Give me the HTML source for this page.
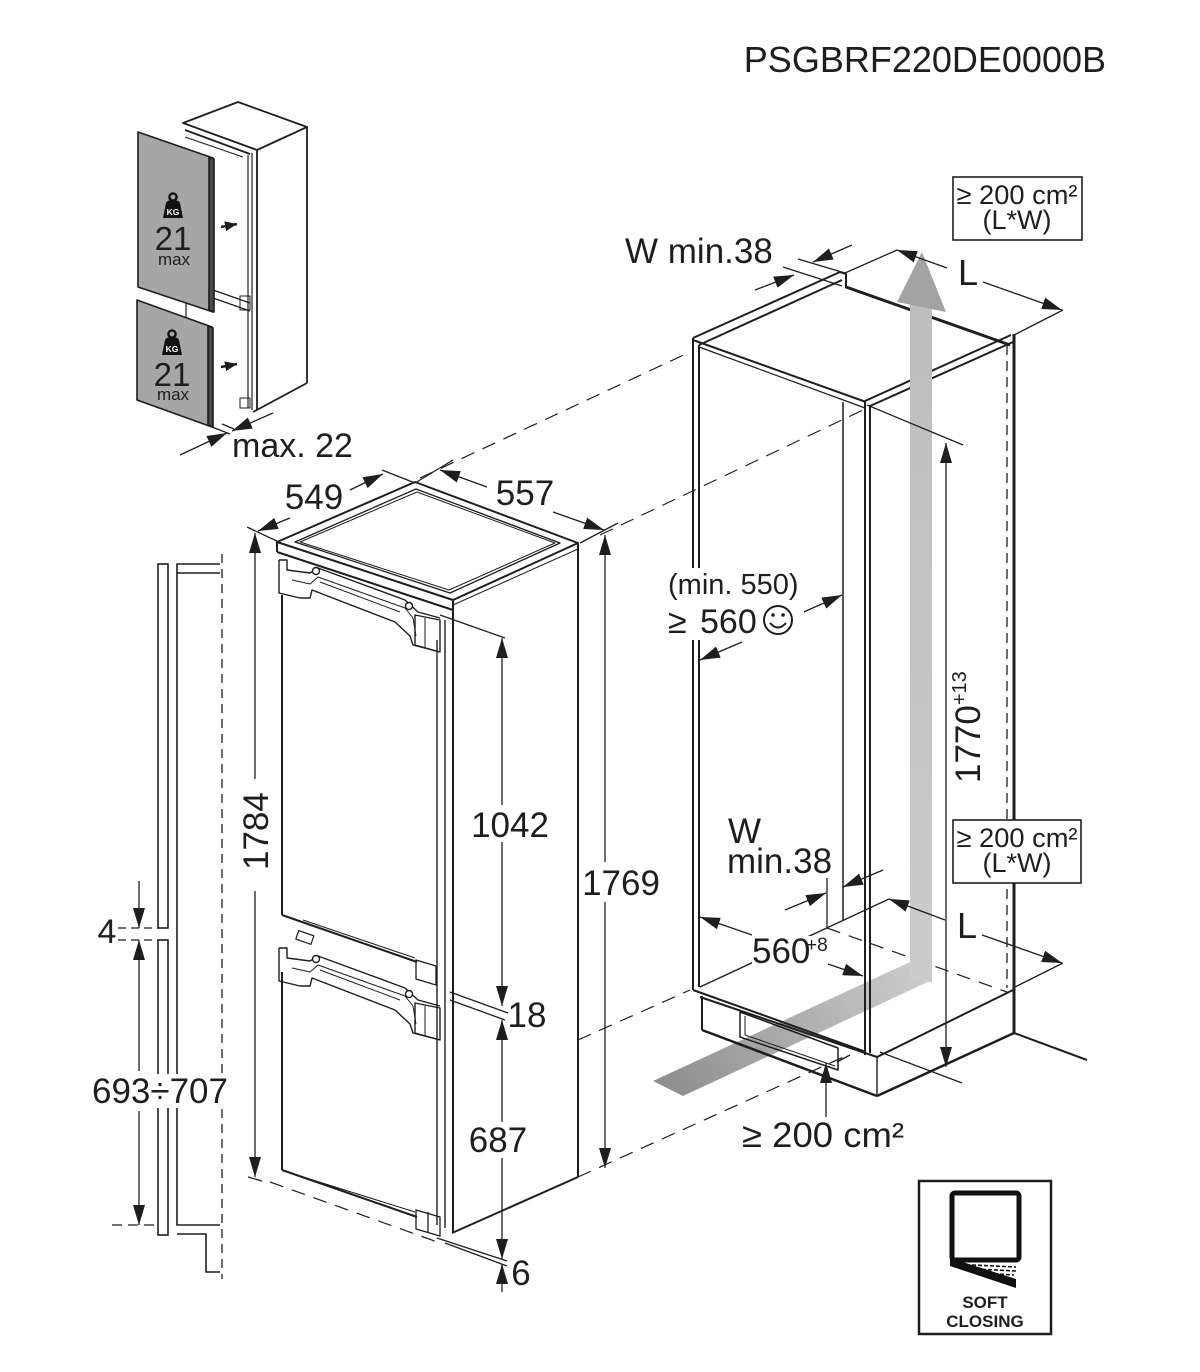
<!DOCTYPE html>
<html>
<head>
<meta charset="utf-8">
<style>
html,body{margin:0;padding:0;background:#fff;}
svg{display:block;}
text{font-family:"Liberation Sans",Arial,sans-serif;fill:#1e1e1e;}
</style>
</head>
<body>
<svg width="1200" height="1372" viewBox="0 0 1200 1372" xmlns="http://www.w3.org/2000/svg">
<defs>
<marker id="a" markerWidth="20" markerHeight="12" refX="20" refY="6" orient="auto" markerUnits="userSpaceOnUse"><path d="M0,0 L20,6 L0,12 z" fill="#1e1e1e"/></marker>
<marker id="s" markerWidth="12" markerHeight="10" refX="12" refY="5" orient="auto" markerUnits="userSpaceOnUse"><path d="M0,0 L12,5 L0,10 z" fill="#1e1e1e"/></marker>
<linearGradient id="band" x1="653" y1="1090" x2="920" y2="970" gradientUnits="userSpaceOnUse">
<stop offset="0" stop-color="#8c8c8c"/><stop offset="1" stop-color="#cbcbcb"/>
</linearGradient>
<linearGradient id="shaft" x1="0" y1="980" x2="0" y2="300" gradientUnits="userSpaceOnUse">
<stop offset="0" stop-color="#cbcbcb"/><stop offset="1" stop-color="#bdbdbd"/>
</linearGradient>
</defs>

<!-- Title -->
<text x="1106" y="72" font-size="36" text-anchor="end">PSGBRF220DE0000B</text>

<!-- ================= SMALL FRIDGE (top-left) ================= -->
<g stroke="#1e1e1e" fill="none" stroke-width="1.8" stroke-linejoin="round">
  <polygon points="183,123 238,102 307,127 257,150" fill="#fff"/>
  <line x1="185" y1="130" x2="250" y2="154"/>
  <line x1="185" y1="137" x2="243" y2="157" stroke-width="1"/>
  <line x1="257" y1="150" x2="257" y2="410"/>
  <line x1="307" y1="127" x2="307" y2="383"/>
  <line x1="307" y1="383" x2="253" y2="412"/>
  <line x1="248" y1="155" x2="248" y2="408" stroke-width="1.2"/>
  <line x1="252" y1="153" x2="252" y2="410" stroke-width="1.2"/>
  <line x1="186" y1="290" x2="186" y2="320" stroke-width="1.2"/>
  <line x1="213" y1="290" x2="250" y2="303" stroke-width="1.2"/>
  <line x1="213" y1="298" x2="250" y2="311" stroke-width="1.2"/>
  <rect x="240" y="296" width="10" height="14" stroke-width="1"/>
  <rect x="240" y="398" width="10" height="10" stroke-width="1"/>
  <line x1="187" y1="165" x2="187" y2="285" stroke-width="1"/>
</g>
<!-- panels -->
<g stroke="#1e1e1e" stroke-width="1.6" stroke-linejoin="round">
  <polygon points="138,132 213,158 213,312 138,287" fill="#a6a6a6"/>
  <polygon points="209,157 214,159 214,312 209,310" fill="#4a4a4a"/>
  <polygon points="137,300 212,327 212,427 137,400" fill="#a6a6a6"/>
  <polygon points="208,326 213,328 213,427 208,425" fill="#4a4a4a"/>
</g>
<!-- KG icons -->
<g>
  <circle cx="173" cy="197" r="3.6" fill="none" stroke="#111" stroke-width="2.4"/>
  <path d="M163,218 L166,203 Q167,200.5 170,200.5 L176,200.5 Q179,200.5 180,203 L183,218 Z" fill="#111"/>
  <text x="173" y="215" font-size="8.5" font-weight="bold" text-anchor="middle" style="fill:#fff">KG</text>
  <text x="173" y="250" font-size="33" text-anchor="middle">21</text>
  <text x="174" y="265" font-size="17" text-anchor="middle">max</text>

  <circle cx="172" cy="334" r="3.6" fill="none" stroke="#111" stroke-width="2.4"/>
  <path d="M162,355 L165,340 Q166,337.5 169,337.5 L175,337.5 Q178,337.5 179,340 L182,355 Z" fill="#111"/>
  <text x="172" y="352" font-size="8.5" font-weight="bold" text-anchor="middle" style="fill:#fff">KG</text>
  <text x="172" y="386" font-size="33" text-anchor="middle">21</text>
  <text x="173" y="400" font-size="17" text-anchor="middle">max</text>
</g>
<g stroke="#1e1e1e" stroke-width="2.5">
  <line x1="221" y1="227" x2="237" y2="224" marker-end="url(#s)"/>
  <line x1="221" y1="367" x2="237" y2="364" marker-end="url(#s)"/>
</g>
<!-- max 22 -->
<g stroke="#1e1e1e" stroke-width="1.3">
  <line x1="180" y1="455" x2="227" y2="433" marker-end="url(#a)"/>
  <line x1="273" y1="413" x2="232" y2="431" marker-end="url(#a)"/>
  <line x1="212" y1="427" x2="230" y2="434"/>
  <line x1="222" y1="424" x2="234" y2="429"/>
</g>
<text x="232" y="457" font-size="34">max. 22</text>

<!-- ================= LEFT PROFILE ================= -->
<g stroke="#1e1e1e" fill="none" stroke-width="1.6">
  <rect x="158" y="564" width="10" height="364"/>
  <rect x="158" y="940" width="10" height="295"/>
  <polyline points="220,564 177,564 177,1225 220,1225"/>
  <line x1="177" y1="573" x2="220" y2="573"/>
  <polyline points="177,1234 206,1234 206,1272 220,1272"/>
  <line x1="222" y1="554" x2="222" y2="1279" stroke-dasharray="9,6" stroke-width="1.3"/>
  <line x1="118" y1="928" x2="158" y2="928" stroke-dasharray="8,5" stroke-width="1.2"/>
  <line x1="118" y1="940" x2="158" y2="940" stroke-dasharray="8,5" stroke-width="1.2"/>
  <line x1="112" y1="1225" x2="158" y2="1225" stroke-dasharray="10,6" stroke-width="1.2"/>
</g>
<g stroke="#1e1e1e" stroke-width="1.3">
  <line x1="139" y1="881" x2="139" y2="928" marker-end="url(#a)"/>
  <line x1="139" y1="1071" x2="139" y2="940" marker-end="url(#a)"/>
  <line x1="139" y1="1111" x2="139" y2="1225" marker-end="url(#a)"/>
</g>
<rect x="88" y="1074" width="145" height="34" fill="#fff"/>
<text x="160" y="1103" font-size="35" text-anchor="middle">693÷707</text>
<text x="107" y="943" font-size="34" text-anchor="middle">4</text>

<!-- ================= MAIN FRIDGE ================= -->
<g stroke="#1e1e1e" fill="none" stroke-width="2" stroke-linejoin="round">
  <polygon points="277,542 415,482 578,543 453,600" fill="#fff"/>
  <polygon points="295,542 416,489 560,543 450,593" stroke-width="1.3"/>
  <polygon points="300,542 417,492 555,543 449,590" stroke-width="1"/>
  <line x1="277" y1="542" x2="277" y2="552"/>
  <line x1="277" y1="552" x2="453" y2="610"/>
  <line x1="453" y1="600" x2="453" y2="1233"/>
  <line x1="578" y1="543" x2="578" y2="1177"/>
  <line x1="578" y1="1177" x2="452" y2="1233"/>
  <line x1="453" y1="605" x2="578" y2="549" stroke-width="1"/>
  <!-- doors -->
  <line x1="282" y1="595" x2="282" y2="915"/>
  <line x1="282" y1="972" x2="282" y2="1170"/>
  <line x1="437" y1="640" x2="437" y2="1225" stroke-width="1.4"/>
  <line x1="445" y1="620" x2="445" y2="1228" stroke-width="1.4"/>
  <line x1="282" y1="915" x2="417" y2="962"/>
  <line x1="303" y1="920" x2="415" y2="958" stroke-width="1"/>
  <line x1="282" y1="1170" x2="417" y2="1217"/>
  <line x1="300" y1="1176" x2="415" y2="1212" stroke-width="1"/>
  <rect x="297" y="933" width="16" height="9" stroke-width="1.2" transform="rotate(19 305 937)"/>
</g>
<!-- hinge bands -->
<g id="hinge" stroke="#1e1e1e" fill="none" stroke-width="1.4" stroke-linejoin="round">
  <path d="M279,560 L287,560 L287,570 L310,573 L318,568 L405,600 L418,612 L440,618"/>
  <path d="M279,560 L279,593 L300,598 L310,598 L312,590 L395,622 L410,636 L413,645 L440,652"/>
  <path d="M292,580 L310,584 L318,577 L405,608 L413,618 L416,636" stroke-width="1"/>
  <path d="M320,582 L400,612" stroke-width="1"/>
  <polygon points="415,615 440,620 440,652 415,645"/>
  <line x1="425" y1="618" x2="425" y2="648" stroke-width="1"/>
  <circle cx="316" cy="571" r="3.5" fill="#fff"/>
  <circle cx="409" cy="606" r="3.5" fill="#fff"/>
</g>
<use href="#hinge" transform="translate(0,388)"/>
<g stroke="#1e1e1e" fill="none" stroke-width="1.3">
  <polygon points="416,960 436,966 436,985 416,979"/>
  <polygon points="416,1210 440,1217 440,1236 416,1229"/>
  <line x1="428" y1="1212" x2="428" y2="1233"/>
</g>

<!-- main fridge dimensions -->
<g stroke="#1e1e1e" stroke-width="1.3">
  <line x1="247" y1="527" x2="281" y2="543"/>
  <line x1="382" y1="470" x2="415" y2="483"/>
  <line x1="415" y1="483" x2="453" y2="460"/>
  <line x1="580" y1="543" x2="618" y2="523"/>
  <line x1="290" y1="518" x2="258" y2="531" marker-end="url(#a)"/>
  <line x1="350" y1="490" x2="383" y2="474" marker-end="url(#a)"/>
  <line x1="487" y1="487" x2="440" y2="470" marker-end="url(#a)"/>
  <line x1="553" y1="512" x2="604" y2="530" marker-end="url(#a)"/>
  <line x1="255" y1="779" x2="255" y2="533" marker-end="url(#a)"/>
  <line x1="255" y1="891" x2="255" y2="1177" marker-end="url(#a)"/>
  <line x1="248" y1="1177" x2="262" y2="1181"/>
  <line x1="605" y1="862" x2="605" y2="535" marker-end="url(#a)"/>
  <line x1="605" y1="902" x2="605" y2="1168" marker-end="url(#a)"/>
  <line x1="440" y1="615" x2="505" y2="638"/>
  <line x1="502" y1="805" x2="502" y2="638" marker-end="url(#a)"/>
  <line x1="502" y1="842" x2="502" y2="1006" marker-end="url(#a)"/>
  <line x1="450" y1="992" x2="508" y2="1013"/>
  <line x1="450" y1="1000" x2="505" y2="1020"/>
  <line x1="502" y1="1122" x2="502" y2="1020" marker-end="url(#a)"/>
  <line x1="502" y1="1158" x2="502" y2="1259" marker-end="url(#a)"/>
  <line x1="437" y1="1238" x2="507" y2="1261"/>
  <line x1="445" y1="1243" x2="507" y2="1266"/>
  <line x1="502" y1="1292" x2="502" y2="1264" marker-end="url(#a)"/>
</g>
<text x="314" y="509" font-size="35" text-anchor="middle">549</text>
<text x="525" y="505" font-size="35" text-anchor="middle">557</text>
<text transform="translate(268,870) rotate(-90)" font-size="35">1784</text>
<text x="621" y="895" font-size="35" text-anchor="middle">1769</text>
<text x="510" y="837" font-size="35" text-anchor="middle">1042</text>
<text x="527" y="1027" font-size="35" text-anchor="middle">18</text>
<text x="498" y="1152" font-size="35" text-anchor="middle">687</text>
<text x="521" y="1285" font-size="35" text-anchor="middle">6</text>

<!-- dashed projection lines -->
<g stroke="#1e1e1e" stroke-width="1.2" stroke-dasharray="14,9" fill="none">
  <line x1="420" y1="478" x2="690" y2="352"/>
  <line x1="600" y1="535" x2="863" y2="410"/>
  <line x1="578" y1="1040" x2="690" y2="990"/>
  <line x1="578" y1="1177" x2="848" y2="1055"/>
  <line x1="270" y1="1182" x2="440" y2="1243"/>
  <line x1="827" y1="928" x2="1007" y2="992"/>
</g>

<!-- ================= NICHE ================= -->
<polygon points="653,1081 910,962 932,980 683,1096" fill="url(#band)"/>

<g stroke="#1e1e1e" fill="none" stroke-width="2" stroke-linejoin="round">
  <line x1="693" y1="338" x2="840" y2="272"/>
  <line x1="699" y1="345" x2="842" y2="280"/>
  <polyline points="840,272 846,274 846,288"/>
  <line x1="846" y1="287" x2="1010" y2="345" stroke-width="3"/>
  <line x1="1011" y1="335" x2="865" y2="401"/>
  <line x1="1013" y1="342" x2="870" y2="406"/>
  <line x1="693" y1="340" x2="866" y2="402"/>
  <line x1="699" y1="347" x2="865" y2="408" stroke-width="1.2"/>
  <line x1="693" y1="338" x2="693" y2="990"/>
  <line x1="699" y1="345" x2="699" y2="987"/>
  <line x1="865" y1="401" x2="865" y2="1055"/>
  <line x1="870" y1="405" x2="870" y2="1053"/>
  <line x1="843" y1="402" x2="843" y2="920" stroke-width="1.5"/>
  <line x1="1014" y1="334" x2="1014" y2="1033" stroke-width="3"/>
  <line x1="1007" y1="345" x2="1007" y2="988" stroke-width="1.3" stroke-dasharray="10,6"/>
  <line x1="693" y1="990" x2="866" y2="1052"/>
  <line x1="700" y1="997" x2="877" y2="1057"/>
  <line x1="700" y1="987" x2="889" y2="899" stroke-width="1.4"/>
  <line x1="877" y1="1057" x2="1013" y2="990"/>
  <line x1="702" y1="996" x2="702" y2="1030"/>
  <line x1="702" y1="1030" x2="877" y2="1096" stroke-width="2.5"/>
  <line x1="877" y1="1057" x2="877" y2="1096" stroke-width="1.4"/>
  <line x1="877" y1="1096" x2="1014" y2="1033" stroke-width="2.5"/>
  <line x1="1014" y1="1033" x2="1087" y2="1060"/>
  <polygon points="740,1012 838,1048 838,1070 740,1037" stroke-width="1.5"/>
  <polyline points="745,1016 745,1035 835,1066" stroke-width="1"/>
</g>
<rect x="910" y="300" width="22" height="682" fill="url(#shaft)"/>
<polygon points="922,252 897,302 946,312" fill="#a3a3a3"/>

<g stroke="#1e1e1e" stroke-width="1.3">
  <line x1="783" y1="267" x2="842" y2="286"/>
  <line x1="798" y1="259" x2="845" y2="273"/>
  <line x1="755" y1="290" x2="794" y2="275" marker-end="url(#a)"/>
  <line x1="852" y1="245" x2="813" y2="262" marker-end="url(#a)"/>
  <line x1="845" y1="273" x2="897" y2="250"/>
  <line x1="1014" y1="335" x2="1063" y2="310"/>
  <line x1="947" y1="268" x2="897" y2="250" marker-end="url(#a)"/>
  <line x1="983" y1="282" x2="1062" y2="310" marker-end="url(#a)"/>
  <line x1="797" y1="615" x2="842" y2="595" marker-end="url(#a)"/>
  <line x1="742" y1="642" x2="700" y2="660" marker-end="url(#a)"/>
  <line x1="867" y1="405" x2="963" y2="445"/>
  <line x1="880" y1="1052" x2="962" y2="1083"/>
  <line x1="946" y1="700" x2="946" y2="443" marker-end="url(#a)"/>
  <line x1="946" y1="700" x2="946" y2="1067" marker-end="url(#a)"/>
  <line x1="827" y1="878" x2="827" y2="928"/>
  <line x1="785" y1="910" x2="826" y2="893" marker-end="url(#a)"/>
  <line x1="883" y1="870" x2="843" y2="887" marker-end="url(#a)"/>
  <line x1="752" y1="935" x2="700" y2="917" marker-end="url(#a)"/>
  <line x1="825" y1="963" x2="863" y2="976" marker-end="url(#a)"/>
  <line x1="945" y1="920" x2="889" y2="899" marker-end="url(#a)"/>
  <line x1="982" y1="935" x2="1062" y2="963" marker-end="url(#a)"/>
  <line x1="1013" y1="988" x2="1063" y2="963"/>
  <line x1="837" y1="1062" x2="850" y2="1055"/>
  <line x1="826" y1="1117" x2="826" y2="1063" marker-end="url(#a)"/>
</g>

<text x="625" y="263" font-size="35">W min.38</text>
<text x="958" y="285" font-size="36">L</text>
<rect x="953" y="177" width="129" height="63" fill="#fff" stroke="#1e1e1e" stroke-width="1.6"/>
<text x="1017" y="204" font-size="27" text-anchor="middle" textLength="121" lengthAdjust="spacingAndGlyphs">≥ 200 cm²</text>
<text x="1017" y="229" font-size="27" text-anchor="middle">(L*W)</text>

<rect x="662" y="568" width="142" height="72" fill="#fff"/>
<text x="668" y="594" font-size="29">(min. 550)</text>
<text x="668" y="633" font-size="34">≥</text>
<text x="700" y="633" font-size="34">560</text>
<g stroke="#1e1e1e" fill="none" stroke-width="2">
  <circle cx="778" cy="620" r="14"/>
  <path d="M770,623 Q778,632 786,623"/>
</g>
<circle cx="773" cy="615" r="1.8" fill="#1e1e1e"/>
<circle cx="783" cy="615" r="1.8" fill="#1e1e1e"/>

<text transform="translate(980,783) rotate(-90)" font-size="35">1770<tspan font-size="20" dy="-14">+13</tspan></text>

<rect x="953" y="820" width="128" height="63" fill="#fff" stroke="#1e1e1e" stroke-width="1.6"/>
<text x="1017" y="847" font-size="27" text-anchor="middle" textLength="121" lengthAdjust="spacingAndGlyphs">≥ 200 cm²</text>
<text x="1017" y="872" font-size="27" text-anchor="middle">(L*W)</text>

<rect x="726" y="818" width="112" height="58" fill="#fff"/>
<text x="728" y="843" font-size="35">W</text>
<text x="727" y="873" font-size="35">min.38</text>
<text x="957" y="938" font-size="36">L</text>
<rect x="752" y="936" width="76" height="30" fill="#fff"/>
<text x="752" y="963" font-size="35">560</text>
<text x="806" y="951" font-size="19">+8</text>
<text x="742" y="1147" font-size="35" textLength="162" lengthAdjust="spacingAndGlyphs">≥ 200 cm²</text>

<!-- ================= SOFT CLOSING ================= -->
<rect x="919" y="1181" width="132" height="153" fill="#fff" stroke="#1e1e1e" stroke-width="2.5"/>
<rect x="952" y="1193" width="67" height="67" rx="3" fill="none" stroke="#111" stroke-width="5"/>
<polygon points="950,1258 1016,1279 1016,1288 950,1266" fill="#111"/>
<g stroke="#111" stroke-width="1.6" stroke-dasharray="4,2">
  <line x1="972" y1="1265" x2="1016" y2="1267"/>
  <line x1="976" y1="1269" x2="1016" y2="1271"/>
  <line x1="982" y1="1273" x2="1014" y2="1275"/>
</g>
<text x="985" y="1308" font-size="17" font-weight="bold" text-anchor="middle">SOFT</text>
<text x="985" y="1327" font-size="17" font-weight="bold" text-anchor="middle">CLOSING</text>
</svg>
</body>
</html>
